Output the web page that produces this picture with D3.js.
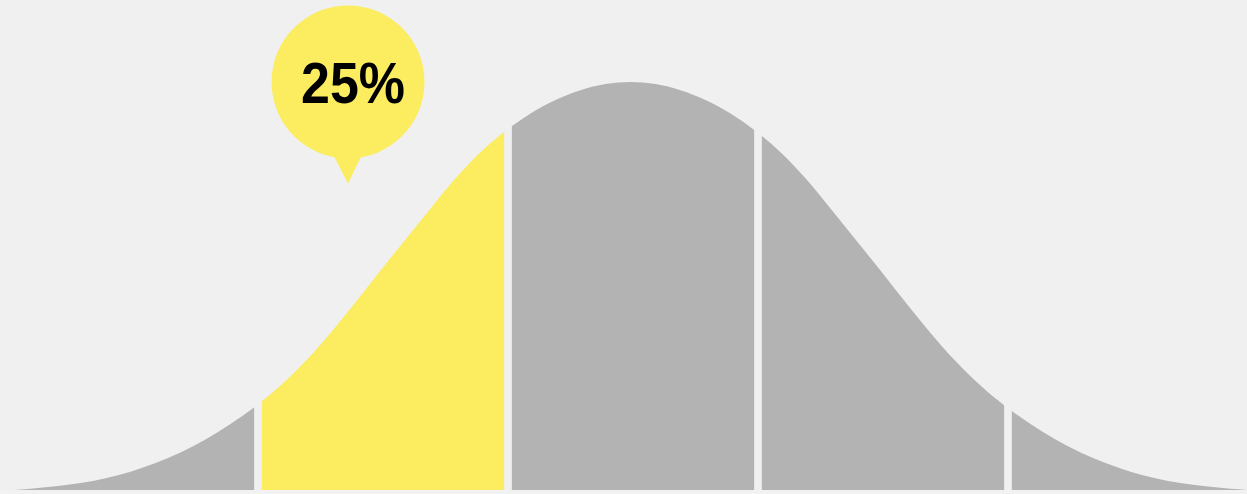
<!DOCTYPE html>
<html>
<head>
<meta charset="utf-8">
<script src="https://cdn.jsdelivr.net/npm/d3@7"></script>
<style>
  html, body { margin: 0; padding: 0; background: #f0f0f0; }
  svg { display: block; }
</style>
</head>
<body>
<svg id="chart" width="1247" height="494"></svg>
<script>
// Curve profile (x in segment units, y as % of peak)
const curveX = [0.02, 0.09, 0.19, 0.29, 0.39, 0.49, 0.59, 0.69, 0.79, 0.89, 0.99, 1.09, 1.19, 1.29, 1.39, 1.49, 1.59, 1.69, 1.79, 1.89, 1.99, 2.09, 2.19, 2.29, 2.39,
                2.49,
                2.59, 2.69, 2.79, 2.89, 2.99, 3.09, 3.19, 3.29, 3.39, 3.49, 3.59, 3.69, 3.79, 3.89, 3.99, 4.09, 4.19, 4.29, 4.39, 4.49, 4.59, 4.69, 4.79, 4.89, 4.96];
const curveY = [0, 0.3, 0.9, 1.7, 2.9, 4.5, 6.6, 9.2, 12.4, 16.2, 20.5, 25.6, 31.6, 38.5, 46.0, 53.8, 61.4, 69.0, 76.4, 82.8, 88.0, 92.3, 95.6, 98.0, 99.5,
                100,
                99.5, 98.0, 95.6, 92.3, 88.0, 82.8, 76.4, 69.0, 61.4, 53.8, 46.0, 38.5, 31.6, 25.6, 20.5, 16.2, 12.4, 9.2, 6.6, 4.5, 2.9, 1.7, 0.9, 0.3, 0];

// Segments (bands)
const segStart = [-0.1, 1, 2, 3, 4];
const segEnd   = [1, 2, 3, 4, 5.1];
const segHighlight = [false, true, false, false, false];

// Annotation
const labelText = "25%";
const labelX = 1.36;   // segment units
const labelY = 100;    // % units

const W = 1247, H = 494;
const svg = d3.select("#chart");

const x = d3.scaleLinear().domain([0, 5]).range([8, 1258]);
const y = d3.scaleLinear().domain([0, 100]).range([490, 82]);

const pts = curveX.map((d, i) => ({ x: d, y: curveY[i] }));

const area = d3.area()
  .x(d => x(d.x))
  .y0(y(0))
  .y1(d => y(d.y))
  .curve(d3.curveMonotoneX);

// faint baseline strip
svg.append("rect").attr("x", 0).attr("y", y(0)).attr("width", W).attr("height", H - y(0)).attr("fill", "#f2f2f2");

const defs = svg.append("defs");
const gap = 7.7;

segStart.forEach((s, i) => {
  const x0 = x(s) + (i === 0 ? 0 : gap / 2);
  const x1 = x(segEnd[i]) - (i === segStart.length - 1 ? 0 : gap / 2);
  defs.append("clipPath").attr("id", "seg" + i)
    .append("rect")
    .attr("x", x0).attr("y", 0)
    .attr("width", x1 - x0).attr("height", H);
  svg.append("path")
    .datum(pts)
    .attr("d", area)
    .attr("clip-path", "url(#seg" + i + ")")
    .attr("fill", segHighlight[i] ? "#fcec60" : "#b3b3b3");
});

// Bubble annotation
const cx = x(labelX), cy = y(labelY), r = 76.5;
const g = svg.append("g");
g.append("path")
  .attr("d", `M${cx - 17},${cy + r - 8} L${cx + 16},${cy + r - 8} L${cx},${cy + r + 25} Z`)
  .attr("fill", "#fcec60");
g.append("circle").attr("cx", cx).attr("cy", cy).attr("r", r).attr("fill", "#fcec60");
g.append("text")
  .attr("x", cx + 5).attr("y", cy + 21)
  .attr("text-anchor", "middle")
  .attr("font-family", "'Liberation Sans', Arial, sans-serif")
  .attr("font-weight", "bold")
  .attr("font-size", 57)
  .attr("textLength", 104)
  .attr("lengthAdjust", "spacingAndGlyphs")
  .attr("fill", "#000")
  .text(labelText);
</script>
</body>
</html>
